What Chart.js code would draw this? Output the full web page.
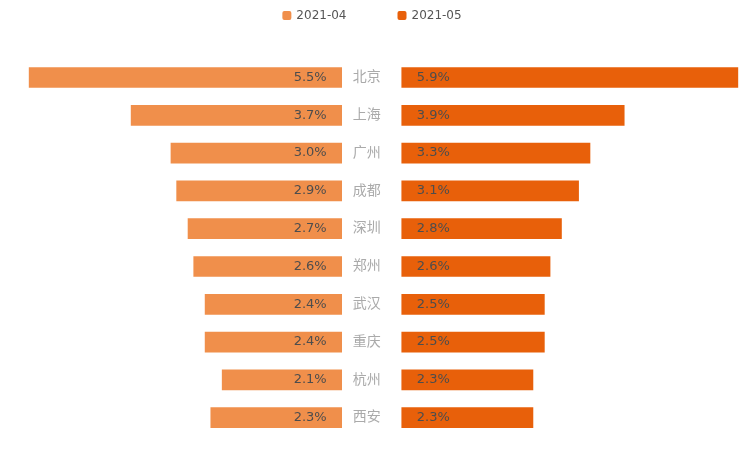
<!DOCTYPE html>
<html>
<head>
<meta charset="utf-8">
<script src="https://cdn.jsdelivr.net/npm/chart.js@4.4.0/dist/chart.umd.min.js"></script>
<style>
    html, body { margin: 0; padding: 0; background: #fff; }
    #wrap { width: 744px; height: 466px; position: relative; }
</style>
</head>
<body>
<div id="wrap"><canvas id="cityChart"></canvas></div>
<script>
// Data
const cities = ['北京', '上海', '广州', '成都', '深圳', '郑州', '武汉', '重庆', '杭州', '西安'];
const seriesNames = ['2021-04', '2021-05'];
const april = [5.5, 3.7, 3.0, 2.9, 2.7, 2.6, 2.4, 2.4, 2.1, 2.3];
const may = [5.9, 3.9, 3.3, 3.1, 2.8, 2.6, 2.5, 2.5, 2.3, 2.3];

const colors = {
    april: '#F08F4B',
    may: '#E8600A'
};
const fontFamily = "'DejaVu Sans', 'Noto Sans CJK SC', sans-serif";

// value labels next to the centre line, plus the city names between the halves
const labelPlugin = {
    id: 'butterflyLabels',
    afterDatasetsDraw(chart) {
        const ctx = chart.ctx;
        const left = chart.getDatasetMeta(0).data;
        const right = chart.getDatasetMeta(1).data;
        ctx.save();
        ctx.textBaseline = 'middle';
        ctx.font = '13px ' + fontFamily;
        ctx.fillStyle = '#4d4d4d';
        left.forEach((bar, i) => {
            ctx.textAlign = 'right';
            ctx.fillText(april[i].toFixed(1) + '%', bar.base - 15, bar.y);
        });
        right.forEach((bar, i) => {
            ctx.textAlign = 'left';
            ctx.fillText(may[i].toFixed(1) + '%', bar.base + 15, bar.y);
        });
        ctx.font = '14px ' + fontFamily;
        ctx.fillStyle = '#aaa';
        ctx.textAlign = 'center';
        left.forEach((bar, i) => {
            const mid = (bar.base + right[i].base) / 2 - 5;
            ctx.fillText(cities[i], mid, bar.y);
        });
        ctx.restore();
    },
    afterDraw(chart) {
        // legend centred on the top
        const ctx = chart.ctx;
        ctx.save();
        ctx.font = '12px ' + fontFamily;
        ctx.textBaseline = 'middle';
        ctx.textAlign = 'left';
        const box = 9, gapText = 5, gapItems = 51, y = 15.5;
        const widths = seriesNames.map(n => box + gapText + ctx.measureText(n).width);
        const total = widths.reduce((a, b) => a + b, 0) + gapItems * (widths.length - 1);
        let x = chart.width / 2 - total / 2;
        [colors.april, colors.may].forEach((c, i) => {
            ctx.fillStyle = c;
            ctx.beginPath();
            ctx.roundRect(x, y - box / 2, box, box, 2);
            ctx.fill();
            ctx.fillStyle = '#555';
            ctx.fillText(seriesNames[i], x + box + gapText, y);
            x += widths[i] + gapItems;
        });
        ctx.restore();
    }
};

const cityChart = new Chart(document.getElementById('cityChart'), {
    type: 'bar',
    data: {
        labels: cities,
        datasets: [
            {
                label: seriesNames[0],
                data: april,
                xAxisID: 'xLeft',
                backgroundColor: colors.april,
                barThickness: 20,
                grouped: false
            },
            {
                label: seriesNames[1],
                data: may,
                xAxisID: 'xRight',
                backgroundColor: colors.may,
                barThickness: 20,
                grouped: false
            }
        ]
    },
    options: {
        indexAxis: 'y',
        responsive: true,
        maintainAspectRatio: false,
        animation: false,
        layout: {
            padding: { top: 58.6, bottom: 29.4, left: 28.7, right: 5.7 }
        },
        plugins: {
            legend: { display: false },
            tooltip: { enabled: false }
        },
        scales: {
            y: { display: false },
            // the two halves share one plot area; the negative minimum leaves the gap in the middle
            xLeft: {
                display: false,
                reverse: true,
                min: -6.97,
                max: 5.5
            },
            xRight: {
                display: false,
                min: -6.54,
                max: 5.9
            }
        }
    },
    plugins: [labelPlugin]
});
</script>
</body>
</html>
